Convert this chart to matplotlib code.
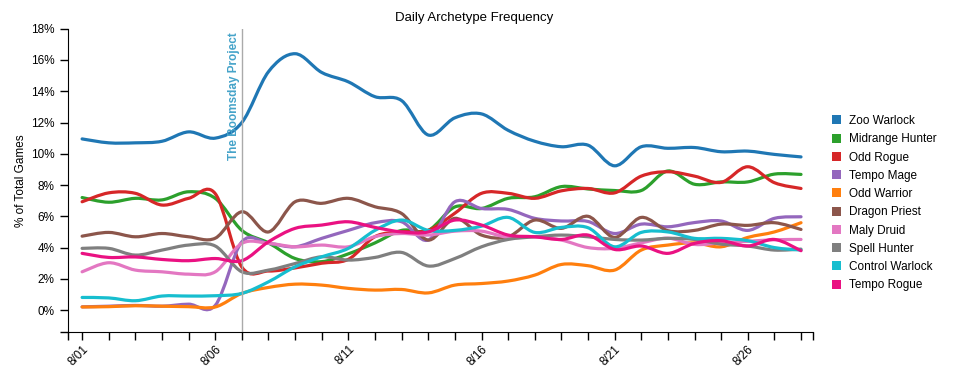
import numpy as np
import matplotlib
matplotlib.use("Agg")
import matplotlib.pyplot as plt
from matplotlib.path import Path
from matplotlib.patches import PathPatch, Patch

plt.rcParams['font.family'] = ['Liberation Sans', 'DejaVu Sans']

# day of August
days = list(range(1, 29))
tick_days = [1, 6, 11, 16, 21, 26]
tick_labels = ["8/01", "8/06", "8/11", "8/16", "8/21", "8/26"]
release_day = 7
release_label = "The Boomsday Project"

zoo_warlock = [10.95, 10.7, 10.7, 10.8, 11.4, 11.0, 12.0, 15.25, 16.4, 15.2, 14.6, 13.65, 13.4, 11.2,
               12.3, 12.55, 11.5, 10.8, 10.45, 10.55, 9.23, 10.45, 10.35, 10.4, 10.13, 10.17, 9.96, 9.8]
midrange_hunter = [7.2, 6.9, 7.15, 7.05, 7.57, 7.15, 5.1, 4.3, 3.3, 3.1, 3.6, 4.3, 5.1, 5.1,
                   6.6, 6.5, 7.15, 7.25, 7.9, 7.75, 7.65, 7.65, 8.9, 8.05, 8.2, 8.2, 8.7, 8.68]
odd_rogue = [6.93, 7.5, 7.47, 6.72, 7.15, 7.45, 2.75, 2.5, 2.7, 3.0, 3.25, 4.7, 5.0, 5.1,
             6.2, 7.47, 7.47, 7.15, 7.63, 7.78, 7.5, 8.57, 8.85, 8.57, 8.17, 9.17, 8.15, 7.78]
tempo_mage = [0.21, 0.25, 0.3, 0.25, 0.38, 0.3, 4.37, 4.27, 4.05, 4.59, 5.1, 5.59, 5.65, 4.48,
              6.93, 6.5, 6.44, 5.87, 5.7, 5.67, 4.9, 5.5, 5.33, 5.6, 5.7, 5.1, 5.87, 5.97]
odd_warrior = [0.2, 0.22, 0.28, 0.25, 0.22, 0.2, 1.07, 1.45, 1.66, 1.6, 1.39, 1.28, 1.32, 1.1,
               1.6, 1.7, 1.86, 2.24, 2.92, 2.84, 2.56, 3.84, 4.16, 4.3, 4.05, 4.65, 5.0, 5.59]
dragon_priest = [4.73, 4.97, 4.69, 4.9, 4.69, 4.6, 6.29, 5.0, 6.93, 6.83, 7.15, 6.61, 6.18, 4.48,
                 5.87, 4.8, 4.69, 5.76, 5.23, 6.0, 4.65, 5.93, 5.08, 5.1, 5.5, 5.42, 5.59, 5.16]
maly_druid = [2.45, 3.03, 2.56, 2.45, 2.3, 2.45, 4.27, 4.27, 4.05, 4.16, 4.05, 4.7, 4.9, 4.8,
              5.05, 5.05, 4.65, 4.69, 4.48, 4.0, 3.95, 4.3, 4.6, 4.2, 4.3, 4.4, 4.5, 4.52]
spell_hunter = [3.95, 3.95, 3.52, 3.84, 4.16, 4.1, 2.45, 2.56, 2.98, 3.41, 3.2, 3.37, 3.69, 2.82,
                3.3, 4.05, 4.52, 4.69, 4.8, 4.69, 4.52, 4.48, 4.59, 4.52, 4.22, 4.1, 3.84, 3.9]
control_warlock = [0.81, 0.78, 0.6, 0.9, 0.9, 0.92, 1.07, 1.81, 2.77, 3.41, 3.95, 5.1, 5.76, 5.1,
                   5.1, 5.37, 5.93, 4.97, 5.29, 5.27, 4.05, 4.97, 5.0, 4.59, 4.59, 4.44, 4.0, 3.84]
tempo_rogue = [3.63, 3.37, 3.4, 3.24, 3.16, 3.3, 3.16, 4.37, 5.23, 5.44, 5.65, 5.29, 5.0, 5.0,
               5.76, 5.44, 4.8, 4.69, 4.52, 4.8, 3.88, 4.1, 3.63, 4.27, 4.44, 4.1, 4.52, 3.8]

names = ["Zoo Warlock", "Midrange Hunter", "Odd Rogue", "Tempo Mage", "Odd Warrior",
         "Dragon Priest", "Maly Druid", "Spell Hunter", "Control Warlock", "Tempo Rogue"]
series = [zoo_warlock, midrange_hunter, odd_rogue, tempo_mage, odd_warrior,
          dragon_priest, maly_druid, spell_hunter, control_warlock, tempo_rogue]
colors = ["#1f77b4", "#2ca02c", "#d62728", "#9467bd", "#ff7f0e",
          "#8c564b", "#e377c2", "#7f7f7f", "#17becf", "#ea1182"]


def smooth_path(xs, ys):
    # catmull-rom through the points, as cubic bezier segments
    pts = np.column_stack([xs, ys]).astype(float)
    ext = np.vstack([pts[0], pts, pts[-1]])
    verts = [pts[0]]
    codes = [Path.MOVETO]
    for i in range(1, len(ext) - 2):
        p0, p1, p2, p3 = ext[i - 1], ext[i], ext[i + 1], ext[i + 2]
        verts += [p1 + (p2 - p0) / 6, p2 - (p3 - p1) / 6, p2]
        codes += [Path.CURVE4] * 3
    return Path(verts, codes)


fig = plt.figure(figsize=(9.54, 3.77), dpi=100)
ax = fig.add_axes([68 / 954, 1 - 332 / 377, (813 - 68) / 954, (332 - 28.7) / 377])

xmin, xmax = 0.47, 28.45
ymin, ymax = -1.4, 18

for vals, col in zip(series, colors):
    ax.add_patch(PathPatch(smooth_path(days, vals), fill=False, edgecolor=col, lw=2.3,
                           capstyle='round', joinstyle='round'))

ax.axvline(release_day, color="#aaaaaa", lw=1)
ax.text(release_day - 0.07, 17.75, release_label, rotation=90, ha='right', va='top',
        color="#45a3c9", fontsize=8.5, fontweight='bold')

ax.set_xlim(xmin, xmax)
ax.set_ylim(ymin, ymax)
ax.set_xticks(tick_days)
ax.set_xticklabels(tick_labels, rotation=45, ha='right', va='top', rotation_mode='anchor')
ax.set_xticks([d for d in days if d not in tick_days] + [xmin, xmax], minor=True)
ax.set_yticks(np.arange(0, 19, 2))
ax.set_yticklabels([f"{v}%" for v in range(0, 19, 2)])
ax.set_yticks([ymin], minor=True)
ax.tick_params(which='both', direction='out', length=6, width=1, labelsize=8.5, colors='black')
ax.tick_params(axis='x', pad=2)
for s in ['top', 'right']:
    ax.spines[s].set_visible(False)
ax.set_ylabel("% of Total Games", fontsize=8.5, labelpad=3)

fig.text(474 / 954, 1 - 18 / 377, "Daily Archetype Frequency", ha='center', va='center', fontsize=9.5)

handles = [Patch(facecolor=c, edgecolor='none') for c in colors]
fig.legend(handles, names, loc='upper left', bbox_to_anchor=(832 / 954, 1 - 115 / 377),
           frameon=False, fontsize=8.5, handlelength=0.8, handleheight=0.8,
           handletextpad=0.6, labelspacing=0.53, borderpad=0, borderaxespad=0)

fig.savefig("out.png", dpi=100)
